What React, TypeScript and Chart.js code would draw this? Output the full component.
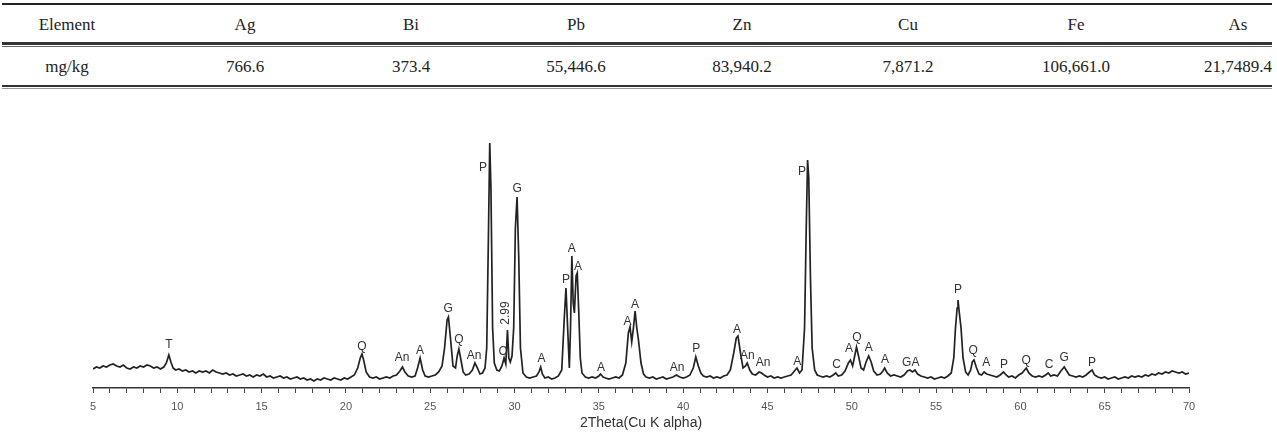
import React, { useEffect, useRef } from 'react';
import { Chart, registerables } from 'chart.js';

Chart.register(...registerables);

// ---------- Table data ----------
const headerRow: string[] = ['Element', 'Ag', 'Bi', 'Pb', 'Zn', 'Cu', 'Fe', 'As'];
const valueRow: string[] = ['mg/kg', '766.6', '373.4', '55,446.6', '83,940.2', '7,871.2', '106,661.0', '21,7489.4'];

// ---------- XRD pattern (2θ, intensity) ----------
const patternLow: [number, number][] = [
  [5.0, 19], [5.2, 21], [5.4, 20], [5.6, 22], [5.8, 21], [6.0, 23], [6.2, 24], [6.4, 22], [6.6, 21], [6.8, 23],
  [7.0, 20], [7.2, 19], [7.4, 21], [7.6, 20], [7.8, 22], [8.0, 21], [8.2, 23], [8.4, 22], [8.6, 20], [8.8, 21],
  [9.0, 19], [9.2, 21], [9.35, 25], [9.5, 33], [9.62, 26], [9.75, 20], [9.9, 18], [10.1, 19], [10.3, 17], [10.5, 18],
  [10.7, 16], [10.9, 17], [11.1, 15], [11.3, 17], [11.5, 16], [11.7, 17], [11.9, 15], [12.1, 18], [12.3, 16], [12.5, 15],
  [12.7, 14], [12.9, 15], [13.1, 13], [13.3, 14], [13.5, 12], [13.7, 13], [13.9, 14], [14.1, 12], [14.3, 13], [14.5, 11],
  [14.7, 13], [14.9, 12], [15.1, 14], [15.3, 11], [15.5, 12], [15.7, 10], [15.9, 11], [16.1, 12], [16.3, 10], [16.5, 11],
  [16.7, 9], [16.9, 10], [17.1, 11], [17.3, 9], [17.5, 10], [17.7, 8], [17.9, 9], [18.1, 7], [18.3, 9], [18.5, 8],
  [18.7, 10], [18.9, 9], [19.1, 8], [19.3, 10], [19.5, 9], [19.7, 8], [19.9, 10], [20.1, 9], [20.3, 11], [20.5, 13],
];

const patternMid: [number, number][] = [
  [20.7, 20], [20.85, 30], [20.95, 34], [21.05, 28], [21.2, 16], [21.4, 11], [21.6, 10], [21.8, 11], [22.0, 9], [22.2, 10],
  [22.4, 11], [22.6, 10], [22.8, 12], [23.0, 13], [23.2, 17], [23.35, 21], [23.5, 16], [23.7, 12], [23.9, 11], [24.1, 12],
  [24.25, 20], [24.4, 30], [24.55, 18], [24.7, 12], [24.9, 11], [25.1, 12], [25.3, 13], [25.5, 16], [25.7, 22], [25.85, 40],
  [26.0, 68], [26.08, 71], [26.2, 50], [26.35, 22], [26.5, 20], [26.6, 32], [26.7, 39], [26.8, 30], [26.95, 16], [27.1, 13],
  [27.3, 14], [27.5, 18], [27.65, 25], [27.8, 20], [27.95, 14], [28.1, 15], [28.25, 20], [28.35, 40], [28.45, 150], [28.53, 245],
  [28.6, 200], [28.7, 60], [28.8, 25], [28.95, 18], [29.1, 17], [29.25, 22], [29.38, 30], [29.48, 24], [29.58, 58], [29.66, 30],
  [29.75, 26], [29.85, 32], [29.95, 60], [30.05, 160], [30.15, 191], [30.25, 130], [30.35, 40], [30.5, 15], [30.7, 11], [30.9, 10],
  [31.1, 11], [31.3, 12], [31.45, 16], [31.55, 21], [31.65, 14], [31.8, 10], [32.0, 11], [32.2, 9], [32.4, 10], [32.6, 12],
  [32.8, 18], [32.95, 70], [33.05, 100], [33.15, 60], [33.25, 20], [33.32, 60], [33.4, 132], [33.48, 85], [33.55, 75], [33.65, 112],
  [33.72, 115], [33.8, 80], [33.9, 30], [34.0, 15], [34.2, 11], [34.4, 10], [34.6, 11], [34.8, 10], [35.0, 12], [35.1, 14],
  [35.25, 11], [35.4, 10], [35.6, 9], [35.8, 10], [36.0, 11], [36.2, 10], [36.4, 13], [36.6, 25], [36.75, 55], [36.85, 61],
  [36.95, 46], [37.05, 60], [37.15, 77], [37.25, 60], [37.35, 48], [37.5, 25], [37.65, 14], [37.8, 11], [38.0, 10], [38.2, 11],
  [38.4, 9], [38.6, 10], [38.8, 11], [39.0, 9], [39.2, 10], [39.4, 11], [39.6, 13], [39.8, 11], [40.0, 10], [40.2, 11],
  [40.4, 13], [40.6, 20], [40.75, 31], [40.9, 22], [41.05, 15], [41.2, 12], [41.4, 11], [41.6, 12], [41.8, 10], [42.0, 11],
  [42.2, 10], [42.4, 12], [42.6, 13], [42.8, 18], [43.0, 35], [43.15, 50], [43.25, 52], [43.4, 35], [43.55, 20], [43.7, 22],
  [43.8, 25], [43.95, 18], [44.1, 14], [44.3, 13], [44.5, 16], [44.65, 15], [44.8, 13], [45.0, 11], [45.2, 12], [45.4, 10],
];

const patternHigh: [number, number][] = [
  [45.6, 11], [45.8, 10], [46.0, 11], [46.2, 12], [46.4, 13], [46.6, 17], [46.75, 20], [46.9, 15], [47.05, 18], [47.2, 60],
  [47.3, 160], [47.38, 228], [47.45, 210], [47.55, 110], [47.65, 40], [47.8, 18], [47.95, 13], [48.1, 12], [48.3, 11], [48.5, 12],
  [48.7, 11], [48.9, 13], [49.05, 15], [49.2, 12], [49.4, 13], [49.6, 17], [49.8, 25], [49.92, 28], [50.05, 22], [50.15, 30],
  [50.28, 41], [50.4, 32], [50.55, 20], [50.7, 18], [50.85, 26], [51.0, 32], [51.15, 26], [51.3, 17], [51.5, 13], [51.7, 14],
  [51.85, 17], [51.95, 20], [52.1, 15], [52.3, 12], [52.5, 13], [52.7, 12], [52.9, 11], [53.1, 13], [53.3, 17], [53.45, 18],
  [53.6, 16], [53.75, 18], [53.9, 14], [54.1, 12], [54.3, 11], [54.5, 10], [54.7, 11], [54.9, 9], [55.1, 10], [55.3, 11],
  [55.5, 10], [55.7, 12], [55.9, 15], [56.05, 30], [56.15, 60], [56.25, 80], [56.3, 88], [56.38, 75], [56.48, 60], [56.6, 30],
  [56.75, 16], [56.9, 13], [57.05, 18], [57.15, 26], [57.25, 28], [57.4, 20], [57.55, 14], [57.7, 13], [57.85, 16], [58.0, 14],
  [58.2, 13], [58.4, 12], [58.6, 11], [58.8, 13], [59.0, 16], [59.15, 13], [59.3, 11], [59.5, 12], [59.7, 10], [59.9, 13],
  [60.1, 15], [60.35, 20], [60.5, 15], [60.7, 12], [60.9, 11], [61.1, 12], [61.3, 11], [61.5, 13], [61.65, 15], [61.8, 12],
  [62.0, 13], [62.2, 12], [62.4, 17], [62.6, 21], [62.75, 17], [62.9, 13], [63.1, 12], [63.3, 11], [63.5, 12], [63.7, 11],
  [63.9, 13], [64.1, 16], [64.25, 18], [64.4, 13], [64.6, 11], [64.8, 10], [65.0, 11], [65.2, 9], [65.4, 10], [65.6, 11],
  [65.8, 9], [66.0, 10], [66.2, 11], [66.4, 10], [66.6, 12], [66.8, 11], [67.0, 12], [67.2, 11], [67.4, 13], [67.6, 12],
  [67.8, 14], [68.0, 13], [68.2, 15], [68.4, 14], [68.6, 16], [68.8, 15], [69.0, 17], [69.2, 16], [69.4, 15], [69.6, 16],
  [69.8, 14], [70.0, 15],
];

// ---------- Peak labels ----------
const peakText: string[] = [
  'T', 'Q', 'An', 'A', 'G', 'Q', 'An', 'P', 'C', '2.99', 'G', 'A', 'P', 'A', 'A', 'A', 'A', 'A', 'An', 'P',
  'A', 'An', 'An', 'A', 'P', 'C', 'A', 'Q', 'A', 'A', 'GA', 'P', 'Q', 'A', 'P', 'Q', 'C', 'G', 'P',
];
const peakPos: number[] = [
  9.5, 20.95, 23.33, 24.4, 26.06, 26.7, 27.6, 28.13, 29.3, 29.5, 30.15, 31.6, 33.05, 33.4, 33.77, 35.13, 36.7, 37.15, 39.64, 40.77,
  43.2, 43.8, 44.74, 46.76, 47.05, 49.1, 49.84, 50.3, 51.0, 51.97, 53.5, 56.3, 57.2, 57.97, 59.03, 60.34, 61.7, 62.6, 64.25,
];
const peakHeight: number[] = [
  43, 41, 30, 37, 79, 48, 32, 220, 36, 75, 199, 29, 108, 139, 121, 20, 66, 83, 20, 39,
  58, 32, 25, 26, 216, 23, 39, 50, 40, 28, 25, 98, 37, 25, 23, 27, 23, 30, 25,
];
const peakRotated: string[] = ['2.99'];

const xMin = 5;
const xMax = 70;
const xLabelEvery = 5;
const yMax = 248;
const axisTitle = '2Theta(Cu K alpha)';

const peakLabelPlugin = {
  id: 'peakLabels',
  afterDatasetsDraw(chart: any) {
    const { ctx, scales } = chart;
    const xs = scales.x;
    const ys = scales.y;
    ctx.save();
    ctx.fillStyle = '#333';
    ctx.font = '12px "Liberation Sans", Arial, sans-serif';
    ctx.textAlign = 'center';
    ctx.textBaseline = 'middle';
    peakText.forEach((t, i) => {
      const px = xs.getPixelForValue(peakPos[i]);
      const py = ys.getPixelForValue(peakHeight[i]);
      if (peakRotated.includes(t)) {
        ctx.save();
        ctx.translate(px, py);
        ctx.rotate(-Math.PI / 2);
        ctx.fillText(t, 0, 0);
        ctx.restore();
      } else {
        ctx.fillText(t, px, py);
      }
    });
    ctx.restore();
  },
};

function XrdChart() {
  const ref = useRef<HTMLCanvasElement | null>(null);
  useEffect(() => {
    if (!ref.current) return;
    const points = [...patternLow, ...patternMid, ...patternHigh].map(([x, y]) => ({ x, y }));
    const chart = new Chart(ref.current, {
      type: 'line',
      data: {
        datasets: [
          {
            data: points,
            borderColor: '#222',
            borderWidth: 1.7,
            pointRadius: 0,
            tension: 0,
            fill: false,
          },
        ],
      },
      options: {
        animation: false,
        responsive: false,
        parsing: false as any,
        layout: { padding: { left: 93, right: 88, top: 45, bottom: 0 } },
        plugins: { legend: { display: false }, tooltip: { enabled: false } },
        scales: {
          x: {
            type: 'linear',
            min: xMin,
            max: xMax,
            afterFit: (s: any) => {
              s.height = 44;
            },
            grid: {
              display: true,
              drawOnChartArea: false,
              drawTicks: true,
              tickLength: 5,
              color: '#444',
              lineWidth: 1,
            },
            border: { display: true, color: '#333', width: 1.5 },
            ticks: {
              stepSize: 1,
              autoSkip: false,
              maxRotation: 0,
              padding: 7,
              color: '#555',
              font: { family: '"Liberation Sans", Arial, sans-serif', size: 11 },
              callback: (v: any) => (Number(v) % xLabelEvery === 0 ? String(v) : ''),
            },
            title: {
              display: true,
              text: axisTitle,
              color: '#333',
              padding: { top: 0, bottom: 0 },
              font: { family: '"Liberation Sans", Arial, sans-serif', size: 14 },
            },
          },
          y: {
            type: 'linear',
            display: false,
            min: 0,
            max: yMax,
          },
        },
      },
      plugins: [peakLabelPlugin],
    });
    return () => chart.destroy();
  }, []);
  return (
    <canvas
      ref={ref}
      width={1277}
      height={337}
      style={{ position: 'absolute', left: 0, top: 95, width: 1277, height: 337, display: 'block' }}
    />
  );
}

const colCenters = [67, 245, 411, 576, 742, 908, 1076, 1238];

function DataTable() {
  const cell = (text: string, i: number, top: number) => (
    <div
      key={text + i + top}
      style={{
        position: 'absolute',
        left: colCenters[i] - 80,
        width: 160,
        top,
        height: 20,
        lineHeight: '20px',
        textAlign: 'center',
        fontFamily: '"Liberation Serif", "Times New Roman", serif',
        fontSize: 17,
        color: '#222',
        whiteSpace: 'nowrap',
      }}
    >
      {text}
    </div>
  );
  return (
    <>
      <div style={{ position: 'absolute', left: 2, width: 1270, top: 3, height: 2, background: '#222' }} />
      {headerRow.map((t, i) => cell(t, i, 15))}
      <div style={{ position: 'absolute', left: 2, width: 1270, top: 42, height: 3, background: '#333' }} />
      <div style={{ position: 'absolute', left: 2, width: 1270, top: 46, height: 1, background: '#666' }} />
      {valueRow.map((t, i) => cell(t, i, 57))}
      <div style={{ position: 'absolute', left: 2, width: 1270, top: 85, height: 2, background: '#333' }} />
      <div style={{ position: 'absolute', left: 2, width: 1270, top: 88, height: 1, background: '#999' }} />
    </>
  );
}

export default function App() {
  return (
    <div
      style={{
        position: 'absolute',
        left: 0,
        top: 0,
        width: 1277,
        height: 432,
        background: '#fff',
        overflow: 'hidden',
      }}
    >
      <DataTable />
      <XrdChart />
    </div>
  );
}
